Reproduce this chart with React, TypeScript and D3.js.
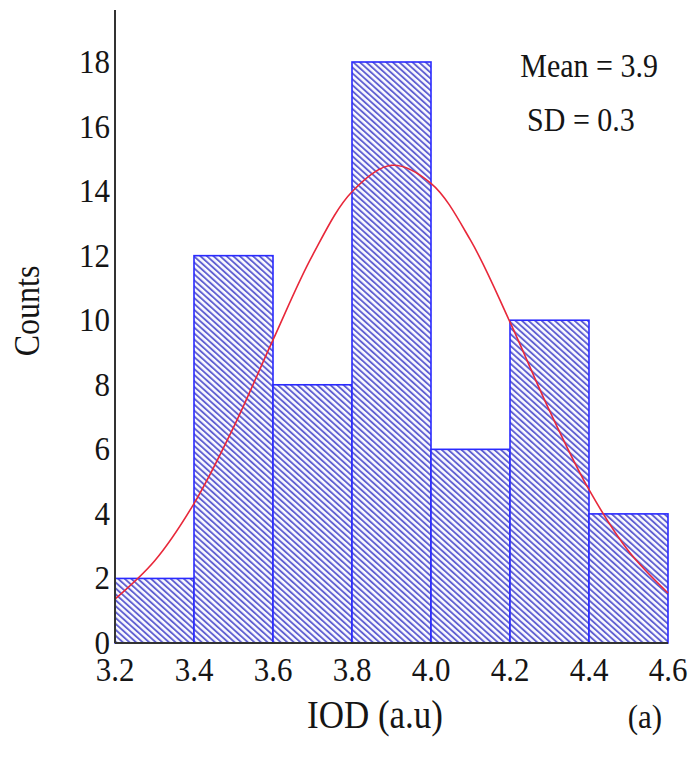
import React from "react";
import * as d3 from "d3";

const binStarts = [3.2, 3.4, 3.6, 3.8, 4.0, 4.2, 4.4];
const binWidth = 0.2;
const counts = [2, 12, 8, 18, 6, 10, 4];
const xTicks = ["3.2", "3.4", "3.6", "3.8", "4.0", "4.2", "4.4", "4.6"];
const yTicks = [0, 2, 4, 6, 8, 10, 12, 14, 16, 18];
const fitX = [3.2, 3.3, 3.4, 3.5, 3.6, 3.7, 3.8, 3.9, 4.0, 4.1, 4.2, 4.3, 4.4, 4.5, 4.6];
const fitY = [1.36, 2.54, 4.32, 6.68, 9.39, 12.01, 13.98, 14.8, 14.24, 12.48, 9.94, 7.2, 4.75, 2.85, 1.55];

const W = 696;
const H = 762;
const FONT = "'Liberation Serif', 'Times New Roman', serif";
const SY = 1.12;

function T(props: {
  x: number;
  y: number;
  anchor?: string;
  size: number;
  rotate?: number;
  children: React.ReactNode;
}) {
  const { x, y, anchor = "middle", size, rotate = 0, children } = props;
  const tf = rotate
    ? `translate(${x},${y}) rotate(${rotate}) scale(1,${SY})`
    : `translate(${x},${y}) scale(1,${SY})`;
  return (
    <text transform={tf} textAnchor={anchor} fontSize={size} fill="#151515">
      {children}
    </text>
  );
}

export default function App() {
  const x = d3.scaleLinear().domain([3.2, 4.6]).range([115, 668]);
  const y = d3.scaleLinear().domain([0, 18]).range([643, 62]);
  const line = d3
    .line<number>()
    .x((_, i) => x(fitX[i]))
    .y((d) => y(d))
    .curve(d3.curveCatmullRom.alpha(0.5));

  return (
    <svg
      width={W}
      height={H}
      style={{ position: "absolute", left: 0, top: 0, background: "#fff" }}
      fontFamily={FONT}
    >
      <defs>
        <pattern
          id="hatch"
          width={4.4}
          height={4.4}
          patternUnits="userSpaceOnUse"
          patternTransform="rotate(-48)"
        >
          <rect width={4.4} height={4.4} fill="#fbfbff" />
          <rect x={0} y={0} width={1.9} height={4.4} fill="#6161d2" />
        </pattern>
      </defs>

      {counts.map((c, i) => (
        <rect
          key={i}
          x={x(binStarts[i])}
          y={y(c)}
          width={x(binStarts[i] + binWidth) - x(binStarts[i])}
          height={y(0) - y(c)}
          fill="url(#hatch)"
          stroke="#2a2aff"
          strokeWidth={1.6}
        />
      ))}

      <path d={line(fitY) || ""} fill="none" stroke="#e8283a" strokeWidth={1.6} />

      <line x1={x(3.2)} x2={x(3.2)} y1={10} y2={y(0)} stroke="#333" strokeWidth={2} />
      <line x1={x(3.2)} x2={x(4.6)} y1={y(0)} y2={y(0)} stroke="#333" strokeWidth={2} />

      {yTicks.map((t) => (
        <T key={t} x={110} y={y(t) + 11} anchor="end" size={31}>
          {t}
        </T>
      ))}
      {xTicks.map((t) => (
        <T key={t} x={x(+t)} y={681} size={31}>
          {t}
        </T>
      ))}

      <T x={375} y={728} size={35}>
        IOD (a.u)
      </T>
      <T x={645} y={728} size={31}>
        (a)
      </T>
      <T x={39} y={311} size={32} rotate={-90}>
        Counts
      </T>
      <T x={658} y={77} anchor="end" size={30}>
        Mean = 3.9
      </T>
      <T x={581} y={131} size={30}>
        SD = 0.3
      </T>
    </svg>
  );
}
